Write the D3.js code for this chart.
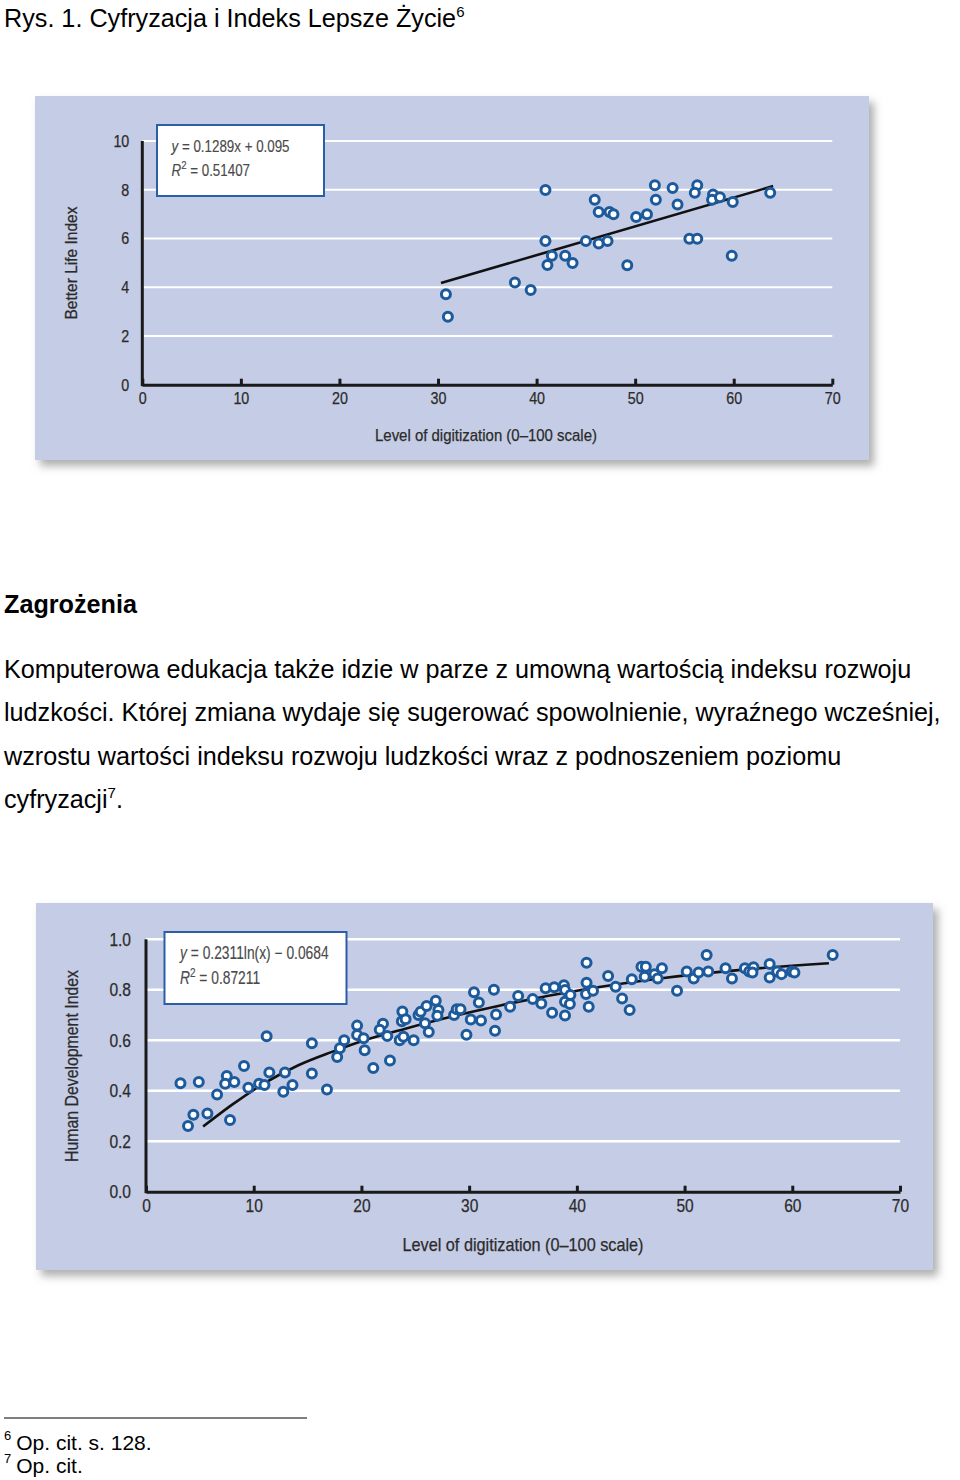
<!DOCTYPE html>
<html><head><meta charset="utf-8">
<script src="https://cdn.jsdelivr.net/npm/d3@7"></script>
<style>
html,body{margin:0;padding:0;background:#fff;}
svg{display:block;}
.doc{font-family:"Liberation Sans",Arial,sans-serif;fill:#000;}
.ch{font-family:"Liberation Sans",Arial,sans-serif;}
.ch text{stroke:#2b2b2b;stroke-width:0.25px;}
.ch .eq text{stroke:#4a4a4a;stroke-width:0.15px;}
</style></head><body>
<svg id="page" width="960" height="1480"></svg>
<script>
// ---------- Chart 1: Better Life Index vs digitization ----------
const blDigitization = [30.8, 31.0, 37.8, 39.4, 40.9, 40.9, 41.55, 41.1, 42.9, 43.65, 45.0, 45.9, 46.3, 46.3, 47.2, 47.4, 47.8, 49.2, 50.1, 51.2, 52.0, 52.1, 53.8, 54.3, 55.5, 56.3, 56.3, 56.05, 57.9, 57.8, 58.6, 59.9, 59.8, 63.7];
const blIndex        = [3.71, 2.79, 4.19, 3.89, 7.99, 5.90, 5.29, 4.91, 5.29, 4.99, 5.90, 7.59, 7.09, 5.79, 5.90, 7.09, 6.99, 4.90, 6.88, 6.99, 8.18, 7.59, 8.07, 7.39, 5.99, 5.99, 8.18, 7.88, 7.80, 7.59, 7.69, 7.50, 5.29, 7.88];
const blTrendX = [30.3, 64.0];
const blTrendY = [4.17, 8.15];
const blYTicks = [0, 2, 4, 6, 8, 10];
const blXTicks = [0, 10, 20, 30, 40, 50, 60, 70];
const blEquation = ["y", " = 0.1289x + 0.095"];
const blR2 = "0.51407";

// ---------- Chart 2: Human Development Index vs digitization ----------
const hdDigitization = [3.2, 4.9, 3.9, 4.4, 5.7, 6.6, 7.5, 7.35, 8.2, 7.8, 9.1, 9.5, 10.5, 11.0, 11.2, 11.45, 12.9, 12.75, 13.6, 15.4, 15.4, 16.8, 17.75, 18.0, 18.4, 19.6, 19.6, 20.2, 20.3, 21.1, 22.0, 21.7, 22.4, 22.65, 23.8, 23.75, 24.1, 23.55, 23.9, 24.85, 25.3, 25.5, 26.05, 25.9, 26.25, 26.9, 27.15, 27.05, 28.6, 28.85, 29.2, 29.75, 30.45, 30.15, 30.9, 31.1, 32.3, 32.5, 32.4, 33.8, 34.55, 35.9, 36.7, 37.1, 37.9, 37.7, 38.8, 38.9, 38.9, 38.9, 39.4, 39.35, 40.9, 40.9, 40.85, 41.5, 41.1, 42.9, 43.6, 44.2, 44.9, 45.1, 46.0, 46.4, 46.3, 47.2, 47.5, 47.9, 49.3, 50.2, 50.85, 51.3, 52.05, 52.2, 53.8, 54.4, 55.6, 56.0, 56.4, 56.3, 57.9, 57.9, 58.6, 59.0, 59.95, 60.2, 63.75];
const hdIndex        = [0.43, 0.435, 0.26, 0.305, 0.31, 0.385, 0.458, 0.428, 0.435, 0.284, 0.498, 0.412, 0.428, 0.423, 0.616, 0.472, 0.472, 0.396, 0.423, 0.588, 0.468, 0.405, 0.534, 0.568, 0.6, 0.658, 0.621, 0.608, 0.56, 0.49, 0.665, 0.642, 0.617, 0.52, 0.714, 0.675, 0.683, 0.6, 0.614, 0.6, 0.7, 0.713, 0.736, 0.667, 0.633, 0.757, 0.72, 0.697, 0.7, 0.723, 0.723, 0.622, 0.79, 0.682, 0.75, 0.678, 0.8, 0.702, 0.638, 0.733, 0.775, 0.763, 0.746, 0.806, 0.81, 0.709, 0.818, 0.799, 0.753, 0.698, 0.779, 0.744, 0.907, 0.828, 0.783, 0.796, 0.733, 0.855, 0.812, 0.765, 0.72, 0.842, 0.891, 0.891, 0.852, 0.862, 0.845, 0.885, 0.796, 0.872, 0.845, 0.868, 0.938, 0.872, 0.885, 0.845, 0.885, 0.872, 0.889, 0.868, 0.902, 0.849, 0.872, 0.862, 0.872, 0.868, 0.938];
const hdTrendX = [5.3, 8.0, 11.0, 14.1, 17.2, 20.3, 24.0, 28.5, 32.9, 41.2, 47.7, 55.5, 63.4];
const hdTrendY = [0.258, 0.345, 0.43, 0.50, 0.553, 0.60, 0.645, 0.695, 0.738, 0.805, 0.845, 0.88, 0.905];
const hdYTicks = [0, 0.2, 0.4, 0.6, 0.8, 1.0];
const hdXTicks = [0, 10, 20, 30, 40, 50, 60, 70];
const hdEquation = ["y", " = 0.2311ln(x) \u2212 0.0684"];
const hdR2 = "0.87211";

const xTitle = "Level of digitization (0\u2013100 scale)";

const svg = d3.select("#page");
svg.append("rect").attr("width", 960).attr("height", 1480).attr("fill", "#fff");

const defs = svg.append("defs");
const f = defs.append("filter").attr("id", "sh").attr("x", "-3%").attr("y", "-5%").attr("width", "110%").attr("height", "115%");
f.append("feDropShadow").attr("dx", 5).attr("dy", 6).attr("stdDeviation", 4)
  .attr("flood-color", "#6d6d6d").attr("flood-opacity", 0.55);

// ---------- document text ----------
const FS = 25.2;
const doc = svg.append("g").attr("class", "doc");
const title = doc.append("text").attr("x", 4).attr("y", 27).attr("font-size", FS);
title.append("tspan").text("Rys. 1. Cyfryzacja i Indeks Lepsze \u017Bycie");
title.append("tspan").attr("font-size", 15).attr("dy", -10).text("6");

doc.append("text").attr("x", 4).attr("y", 613).attr("font-size", FS)
  .attr("font-weight", "bold").text("Zagro\u017Cenia");

const paraLines = [
  "Komputerowa edukacja tak\u017Ce idzie w parze z umown\u0105 warto\u015Bci\u0105 indeksu rozwoju",
  "ludzko\u015Bci. Kt\u00F3rej zmiana wydaje si\u0119 sugerowa\u0107 spowolnienie, wyra\u017Anego wcze\u015Bniej,",
  "wzrostu warto\u015Bci indeksu rozwoju ludzko\u015Bci wraz z podnoszeniem poziomu"
];
paraLines.forEach((t, i) => {
  doc.append("text").attr("x", 4).attr("y", 678 + i * 43.3).attr("font-size", FS).text(t);
});
const last = doc.append("text").attr("x", 4).attr("y", 678 + 3 * 43.3).attr("font-size", FS);
last.append("tspan").text("cyfryzacji");
last.append("tspan").attr("font-size", 15).attr("dy", -10).text("7");
last.append("tspan").attr("dy", 10).text(".");

doc.append("line").attr("x1", 4).attr("x2", 307).attr("y1", 1418).attr("y2", 1418)
  .attr("stroke", "#000").attr("stroke-width", 1.2);
const fn1 = doc.append("text").attr("x", 4).attr("y", 1450).attr("font-size", 21);
fn1.append("tspan").attr("font-size", 13).attr("dy", -10).text("6");
fn1.append("tspan").attr("dx", 5).attr("dy", 10).text("Op. cit. s. 128.");
const fn2 = doc.append("text").attr("x", 4).attr("y", 1473).attr("font-size", 21);
fn2.append("tspan").attr("font-size", 13).attr("dy", -10).text("7");
fn2.append("tspan").attr("dx", 5).attr("dy", 10).text("Op. cit.");

// condense plain text elements horizontally
function condense(sel, ratio) {
  sel.each(function () {
    const L = this.getComputedTextLength();
    d3.select(this).attr("textLength", L * ratio).attr("lengthAdjust", "spacingAndGlyphs");
  });
}

// ---------- chart drawing ----------
function drawChart(c) {
  const g = svg.append("g").attr("class", "ch");
  g.append("rect").attr("x", c.panel[0]).attr("y", c.panel[1]).attr("width", c.panel[2]).attr("height", c.panel[3])
    .attr("fill", "#c5cce5").attr("filter", "url(#sh)");

  const x = d3.scaleLinear().domain([0, 70]).range([c.x0, c.x1]);
  const y = d3.scaleLinear().domain([c.yTicks[0], c.yTicks[c.yTicks.length - 1]]).range([c.y0, c.y1]);

  // gridlines
  g.append("g").selectAll("line").data(c.yTicks.slice(1)).join("line")
    .attr("x1", c.x0).attr("x2", c.x1).attr("y1", d => y(d)).attr("y2", d => y(d))
    .attr("stroke", "#fff").attr("stroke-width", c.gridW);

  // y axis labels
  const ya = g.append("g").attr("transform", `translate(${c.x0},0)`)
    .call(d3.axisLeft(y).tickValues(c.yTicks).tickSize(0).tickPadding(c.yPad).tickFormat(c.yFmt));
  ya.select(".domain").remove();
  ya.selectAll("text").attr("font-size", c.fs).attr("fill", "#2b2b2b").attr("font-family", null);
  condense(ya.selectAll("text"), 0.84);

  // x axis
  const xa = g.append("g").attr("transform", `translate(0,${c.y0})`)
    .call(d3.axisBottom(x).tickValues(c.xTicks).tickSizeInner(-6).tickSizeOuter(0).tickPadding(8));
  xa.select(".domain").attr("stroke", "#1a1a1a").attr("stroke-width", 3);
  xa.selectAll(".tick line").attr("stroke", "#1a1a1a").attr("stroke-width", 3);
  xa.selectAll("text").attr("font-size", c.fs).attr("fill", "#2b2b2b").attr("font-family", null)
    .attr("y", 7).attr("dy", "0.71em");
  condense(xa.selectAll("text"), 0.84);

  // y axis line
  g.append("line").attr("x1", c.x0).attr("x2", c.x0).attr("y1", c.y1).attr("y2", c.y0 + 1.5)
    .attr("stroke", "#1a1a1a").attr("stroke-width", 3);

  // equation box
  g.append("rect").attr("x", c.box[0]).attr("y", c.box[1]).attr("width", c.box[2]).attr("height", c.box[3])
    .attr("fill", "#fff").attr("stroke", "#2c5da8").attr("stroke-width", 2);
  const eq = g.append("g").attr("class", "eq");
  const eg1 = eq.append("g").attr("transform", `translate(${c.box[0] + c.eqOff[0]},${c.box[1] + c.eqOff[1]}) scale(${c.eqScale},1)`);
  const e1 = eg1.append("text").attr("font-size", c.eqFs).attr("fill", "#4a4a4a");
  e1.append("tspan").attr("font-style", "italic").text(c.eq[0]);
  e1.append("tspan").text(c.eq[1]);
  const eg2 = eq.append("g").attr("transform", `translate(${c.box[0] + c.eqOff[0]},${c.box[1] + c.eqOff[2]}) scale(${c.eqScale},1)`);
  const e2 = eg2.append("text").attr("font-size", c.eqFs).attr("fill", "#4a4a4a");
  e2.append("tspan").attr("font-style", "italic").text("R");
  e2.append("tspan").attr("font-size", c.eqFs * 0.72).attr("dy", -7).text("2");
  e2.append("tspan").attr("dy", 7).text(" = " + c.r2);

  // trend
  const line = d3.line().x(d => x(d[0])).y(d => y(d[1])).curve(d3.curveMonotoneX);
  g.append("path").datum(d3.zip(c.tx, c.ty)).attr("d", line)
    .attr("fill", "none").attr("stroke", "#111").attr("stroke-width", 2.6);

  // points
  g.append("g").selectAll("circle").data(d3.zip(c.px, c.py)).join("circle")
    .attr("cx", d => x(d[0])).attr("cy", d => y(d[1])).attr("r", 4.5)
    .attr("fill", "#fff").attr("stroke", "#1c5a9c").attr("stroke-width", 3);

  // titles
  g.append("text").attr("x", c.xtPos[0]).attr("y", c.xtPos[1]).attr("text-anchor", "middle")
    .attr("font-size", c.fs).attr("fill", "#2b2b2b").attr("textLength", c.xtLen).attr("lengthAdjust", "spacingAndGlyphs")
    .text(xTitle);
  g.append("text").attr("transform", `translate(${c.ytPos[0]},${c.ytPos[1]}) rotate(-90)`)
    .attr("text-anchor", "middle").attr("font-size", c.fs).attr("fill", "#2b2b2b")
    .attr("textLength", c.ytLen).attr("lengthAdjust", "spacingAndGlyphs").text(c.yTitle);
}

drawChart({
  panel: [35, 96, 834, 364], x0: 142.3, x1: 832.3, y0: 384.7, y1: 141, fs: 17,
  yTicks: blYTicks, xTicks: blXTicks, yFmt: d3.format("d"), yPad: 13, gridW: 2,
  box: [157, 125, 167, 71], eq: blEquation, r2: blR2, eqFs: 16.3, eqScale: 0.82, eqOff: [14.5, 26.7, 51],
  tx: blTrendX, ty: blTrendY, px: blDigitization, py: blIndex,
  xtPos: [486, 441], xtLen: 222, ytPos: [77, 263], ytLen: 113, yTitle: "Better Life Index"
});

drawChart({
  panel: [36, 903, 897, 367], x0: 146, x1: 900, y0: 1191.7, y1: 939.3, fs: 18.5,
  yTicks: hdYTicks, xTicks: hdXTicks, yFmt: d3.format(".1f"), yPad: 15, gridW: 2.6,
  box: [164.5, 932, 182, 72], eq: hdEquation, r2: hdR2, eqFs: 17.5, eqScale: 0.79, eqOff: [15.5, 27.3, 52],
  tx: hdTrendX, ty: hdTrendY, px: hdDigitization, py: hdIndex,
  xtPos: [523, 1251], xtLen: 241, ytPos: [78, 1066], ytLen: 192, yTitle: "Human Development Index"
});
</script>
</body></html>
